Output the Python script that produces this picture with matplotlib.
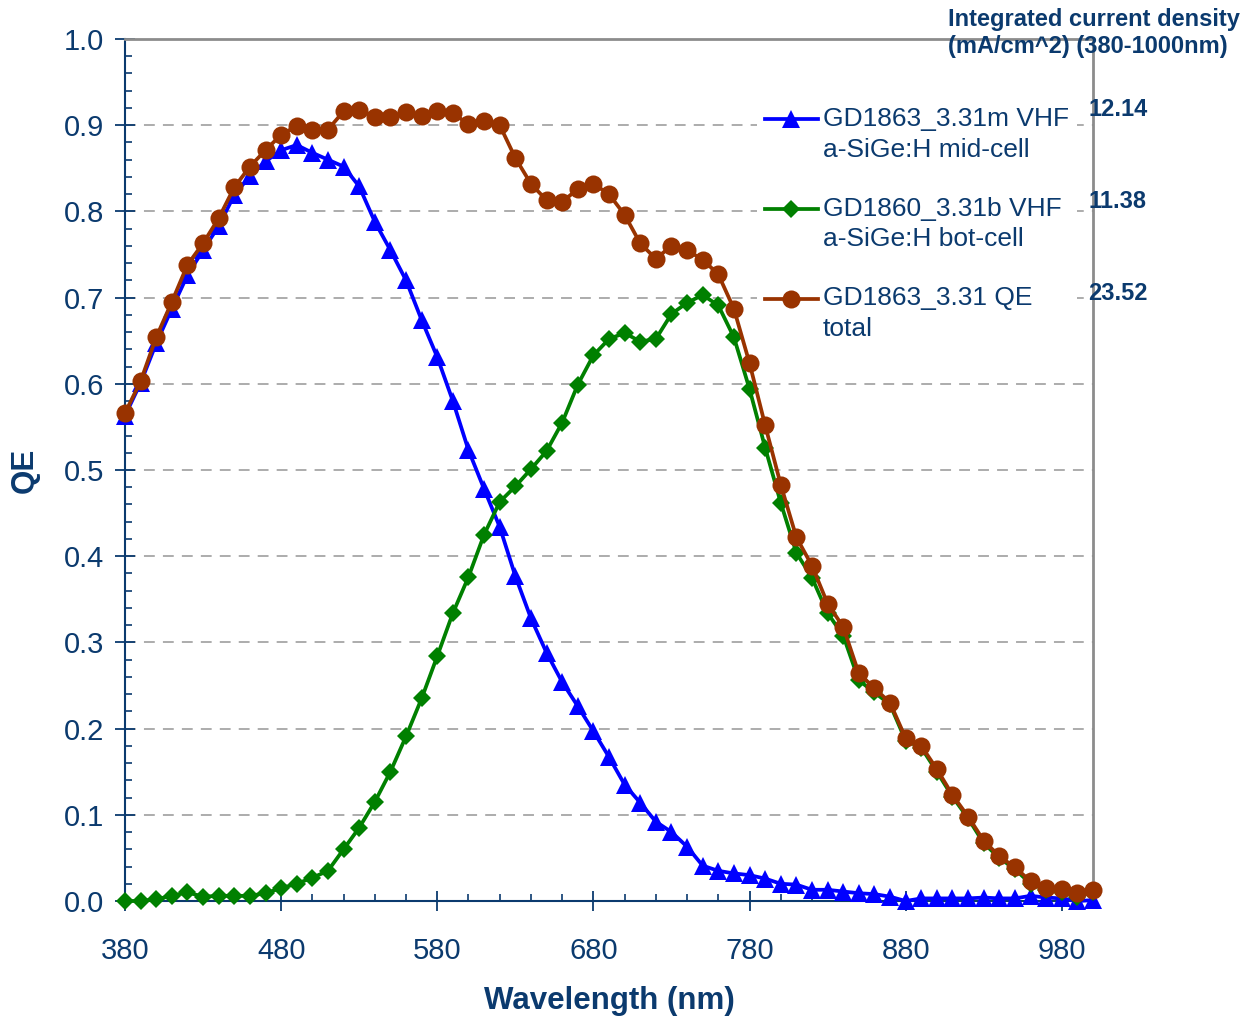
import matplotlib
matplotlib.use("Agg")
import matplotlib.pyplot as plt
from matplotlib.ticker import MultipleLocator, FormatStrFormatter
from matplotlib.legend_handler import HandlerLine2D
import numpy as np

wavelength = list(range(380, 1001, 10))

qe_mid = [0.563, 0.601, 0.647, 0.687, 0.726, 0.755, 0.783, 0.819, 0.841, 0.858,
          0.871, 0.877, 0.868, 0.860, 0.852, 0.829, 0.788, 0.755, 0.720, 0.674,
          0.631, 0.580, 0.523, 0.478, 0.434, 0.377, 0.328, 0.288, 0.254, 0.226,
          0.197, 0.167, 0.135, 0.114, 0.092, 0.080, 0.063, 0.041, 0.035, 0.032,
          0.030, 0.026, 0.020, 0.019, 0.013, 0.013, 0.011, 0.009, 0.008, 0.005,
          0.000, 0.003, 0.003, 0.003, 0.003, 0.004, 0.003, 0.003, 0.006, 0.004,
          0.003, 0.000, 0.001]

qe_bot = [0.000, 0.000, 0.002, 0.006, 0.010, 0.005, 0.006, 0.006, 0.006, 0.009,
          0.015, 0.020, 0.027, 0.035, 0.060, 0.085, 0.115, 0.150, 0.191, 0.235,
          0.284, 0.334, 0.376, 0.425, 0.463, 0.481, 0.501, 0.522, 0.555, 0.599,
          0.633, 0.652, 0.659, 0.649, 0.652, 0.681, 0.694, 0.703, 0.691, 0.654,
          0.594, 0.526, 0.462, 0.404, 0.375, 0.334, 0.308, 0.256, 0.242, 0.228,
          0.186, 0.178, 0.150, 0.121, 0.096, 0.067, 0.050, 0.037, 0.020, 0.013,
          0.011, 0.005, 0.010]

qe_total = [0.566, 0.603, 0.654, 0.695, 0.738, 0.763, 0.792, 0.828, 0.852, 0.871,
            0.889, 0.899, 0.895, 0.895, 0.916, 0.918, 0.910, 0.909, 0.915, 0.911,
            0.917, 0.914, 0.901, 0.905, 0.900, 0.862, 0.832, 0.813, 0.811, 0.826,
            0.832, 0.820, 0.796, 0.763, 0.745, 0.760, 0.755, 0.744, 0.727, 0.687,
            0.624, 0.552, 0.483, 0.422, 0.389, 0.345, 0.318, 0.264, 0.247, 0.230,
            0.189, 0.180, 0.153, 0.123, 0.098, 0.070, 0.052, 0.039, 0.023, 0.015,
            0.014, 0.009, 0.013]

series_labels = ["GD1863_3.31m VHF\na-SiGe:H mid-cell",
                 "GD1860_3.31b VHF\na-SiGe:H bot-cell",
                 "GD1863_3.31 QE\ntotal"]
current_density = ["12.14", "11.38", "23.52"]
header = "Integrated current density\n(mA/cm^2) (380-1000nm)"

navy = "#0B3A6E"
blue = "#0000FF"
green = "#008000"
brown = "#993300"

plt.rcParams['font.family'] = ['Liberation Sans', 'DejaVu Sans']

W, H = 1244, 1017
fig = plt.figure(figsize=(W / 100, H / 100), dpi=100)
ax = fig.add_axes([125 / W, 1 - 901 / H, (1093 - 125) / W, (901 - 39) / H])

lw = 2.7
l1, = ax.plot(wavelength, qe_mid, color=blue, lw=lw, marker='^', ms=12.5,
              markeredgewidth=0, zorder=3, clip_on=False)
l2, = ax.plot(wavelength, qe_bot, color=green, lw=lw, marker='D', ms=9.5,
              markeredgewidth=0, zorder=4, clip_on=False)
l3, = ax.plot(wavelength, qe_total, color=brown, lw=lw, marker='o', ms=13,
              markeredgewidth=0, zorder=5, clip_on=False)

ax.set_xlim(380, 1000)
ax.set_ylim(0, 1.0)
ax.xaxis.set_major_locator(MultipleLocator(100))
ax.xaxis.set_minor_locator(MultipleLocator(20))
ax.yaxis.set_major_locator(MultipleLocator(0.1))
ax.yaxis.set_minor_locator(MultipleLocator(0.02))
ax.yaxis.set_major_formatter(FormatStrFormatter('%.1f'))
ax.set_xticks(np.arange(380, 1000, 100))

for y in np.arange(0.1, 0.95, 0.1):
    ax.axhline(y, color='#A6A6A6', lw=1.3, ls=(0, (6, 4.5)), zorder=1)

ax.tick_params(axis='both', which='major', direction='inout', length=14,
               width=1.3, color=navy, labelcolor=navy, labelsize=21)
ax.tick_params(axis='x', which='major', pad=19)
ax.tick_params(axis='y', which='major', pad=8)
ax.tick_params(axis='both', which='minor', direction='in', length=5,
               width=1.2, color=navy)

for s in ['left', 'bottom']:
    ax.spines[s].set_color(navy)
    ax.spines[s].set_linewidth(1.5)
for s in ['top', 'right']:
    ax.spines[s].set_color('#8C8C8C')
    ax.spines[s].set_linewidth(2)

ax.set_xlabel("Wavelength (nm)", fontsize=22.5, fontweight='bold', color=navy, labelpad=15)
ax.set_ylabel("QE", fontsize=22.5, fontweight='bold', color=navy, labelpad=17)

LFS = 19


class TopHandler(HandlerLine2D):
    def create_artists(self, legend, orig_handle, xdescent, ydescent, width,
                       height, fontsize, trans):
        return super().create_artists(legend, orig_handle, xdescent,
                                      ydescent - 1.17 * fontsize, width, height,
                                      fontsize, trans)


leg = ax.legend([l1, l2, l3], series_labels, loc='upper left',
                bbox_to_anchor=(757 / W, 1 - 99 / H), bbox_transform=fig.transFigure,
                fontsize=LFS, frameon=True, fancybox=False, edgecolor='none',
                facecolor='white', framealpha=1, handlelength=2.0,
                handletextpad=0.2, labelspacing=1.33, borderpad=0.3,
                borderaxespad=0,
                handler_map={l1: TopHandler(), l2: TopHandler(), l3: TopHandler()})
leg.set_zorder(10)
for t in leg.get_texts():
    t.set_color(navy)
    t.set_linespacing(1.35)

for val, yp in zip(current_density, [110, 201, 293]):
    fig.text(1088 / W, 1 - yp / H, val, fontsize=17, fontweight='bold',
             color=navy, ha='left', va='center')

fig.text(948 / W, 1 - 33 / H, header, fontsize=17, fontweight='bold', color=navy,
         ha='left', va='center', linespacing=1.27)

fig.savefig("out.png", dpi=100)
